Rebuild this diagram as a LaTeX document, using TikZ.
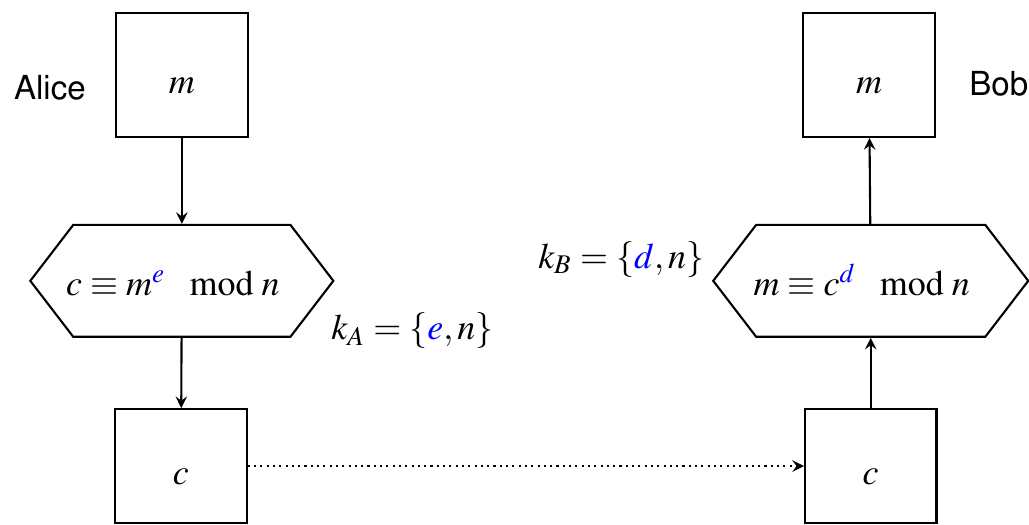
\documentclass[tikz,border=0pt]{standalone}
\usepackage[T1]{fontenc}
\usepackage{amsmath}
\usepackage{mathptmx}
\usepackage[scaled=0.92]{helvet}
\usetikzlibrary{shapes.symbols}

\begin{document}
\begin{tikzpicture}[>=stealth,x=1cm,y=1cm,line width=0.7pt,
		hop/.style={draw,minimum width=1.54cm,font=\large,text height=12.3pt,text depth=0pt},
		khoa/.style={draw,signal,signal to=west and east,signal pointer angle=105,minimum height=1.31cm,font=\large,text height=10.1pt,text depth=0pt}]
	\useasboundingbox (0,0) rectangle (12.054,6.15);
	% Alice
	\node[hop,minimum height=1.45cm] (am) at (2.13,5.27) {$m$};
	\node[khoa,minimum width=3.55cm] (ah) at (2.13,2.86) {\makebox[0pt]{$c\equiv m^{\color{blue}e}\mod n$\hspace{6pt}}};
	\node[hop,minimum height=1.335cm] (ac) at (2.12,0.69) {$c$};
	\node[font=\sffamily\large] (alice) at (0.585,5.12) {Alice};
	\node[anchor=base west,font=\large,inner sep=0pt] (ka) at (3.87,2.17) {$k_A=\{{\color{blue}e},n\}$};
	% Bob
	\node[hop,minimum height=1.45cm] (bm) at (10.18,5.27) {$m$};
	\node[khoa,minimum width=3.69cm] (bh) at (10.20,2.86) {\makebox[0pt]{$m\equiv c^{\color{blue}d}\mod n$\hspace{6pt}}};
	\node[hop,minimum height=1.335cm] (bc) at (10.20,0.69) {$c$};
	\node[font=\sffamily\large] (bob) at (11.70,5.17) {Bob};
	\node[anchor=base east,font=\large,inner sep=0pt] (kb) at (8.26,3.01) {$k_B=\{{\color{blue}d},n\}$};
	% mui ten
	\draw[->] (am) -- (ah);
	\draw[->] (ah) -- (ac);
	\draw[->,dash pattern=on 0.7pt off 1.4pt] (ac) -- (bc);
	\draw[->] (bc) -- (bh);
	\draw[->] (bh) -- (bm);
\end{tikzpicture}
\end{document}
